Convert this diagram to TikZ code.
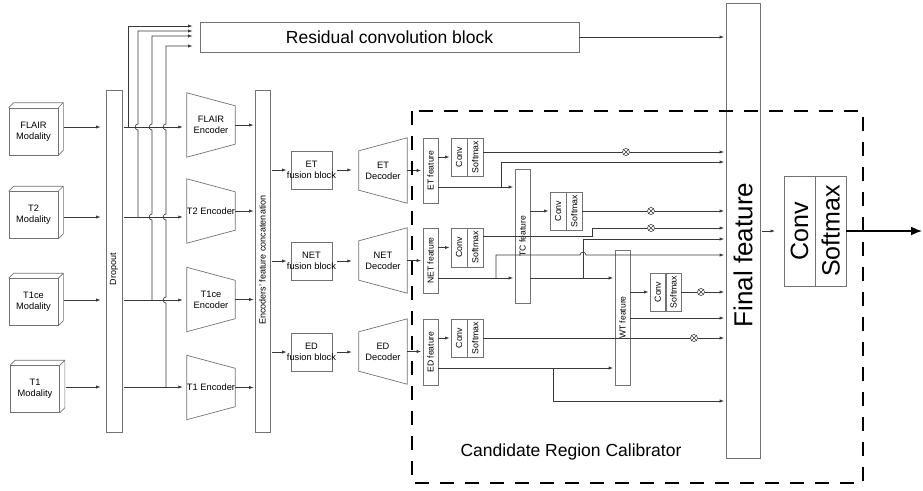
\documentclass[tikz,border=0pt]{standalone}
\usepackage{fontspec}
\setmainfont{Liberation Sans}
\usetikzlibrary{arrows.meta}

% side and top faces of a 3D block drawn behind its front face
\newcommand\cubefaces[1]{%
  \draw[boxln] (#1.north west) -- ([shift={(5pt,5pt)}]#1.north west)
    -- ([shift={(5pt,5pt)}]#1.north east) -- ([shift={(5pt,5pt)}]#1.south east)
    -- (#1.south east)
    (#1.north east) -- ([shift={(5pt,5pt)}]#1.north east);}
% encoder: tall on the left, narrow on the right
\newcommand\encoutline[1]{\draw[boxln] (#1.north west) -- ([yshift=-13pt]#1.north east)
  -- ([yshift=13pt]#1.south east) -- (#1.south west) -- cycle;}
% decoder: narrow on the left, tall on the right
\newcommand\decoutline[1]{\draw[boxln] ([yshift=-13pt]#1.north west) -- (#1.north east)
  -- (#1.south east) -- ([yshift=13pt]#1.south west) -- cycle;}
% upright box with a rotated label
\newcommand\mkvert[7]{%
  \node[box, minimum width=#4pt, minimum height=#5pt] (#1) at (#2,#3) {};
  \node[rotate=90, inner sep=0pt, font=\fontsize{#7}{#7}\selectfont] (#1-t) at (#1) {#6};}
% Conv | Softmax pair
\newcommand\mkcs[6]{%
  \node[box, anchor=west, minimum width=#4pt, minimum height=#5pt] (#1-c) at (#2,#3) {};
  \node[box, anchor=west, minimum width=#4pt, minimum height=#5pt] (#1-s) at (#1-c.east) {};
  \node[rotate=90, inner sep=0pt, font=\fontsize{#6}{#6}\selectfont] (#1-ct) at (#1-c) {Conv};
  \node[rotate=90, inner sep=0pt, font=\fontsize{#6}{#6}\selectfont] (#1-st) at (#1-s) {Softmax};}

\begin{document}
\begin{tikzpicture}[x=1pt, y=-1pt,
  boxln/.style={draw=black!55, line width=0.7pt},
  box/.style={boxln, inner sep=0pt},
  lin/.style={draw=black!78, line width=0.7pt},
  arr/.style={lin, -{Latex[length=4.5pt,width=3.2pt]}, shorten >=1.5pt},
  t9/.style={font=\fontsize{9.3}{11}\selectfont, align=center, inner sep=0pt},
  modal/.style={box, t9, minimum width=49pt, minimum height=47pt},
  enc/.style={t9, minimum width=48pt, minimum height=64pt},
  dec/.style={t9, minimum width=48pt, minimum height=65pt},
  fuse/.style={box, minimum width=41pt, minimum height=38pt},
  otimes/.style={circle, draw=black!78, line width=0.6pt, minimum size=7pt, inner sep=0pt,
    path picture={\draw[black!78, line width=0.5pt]
      (path picture bounding box.north west) -- (path picture bounding box.south east)
      (path picture bounding box.north east) -- (path picture bounding box.south west);}},
  hop/.style={looseness=1.6}
]
\useasboundingbox (0,0) rectangle (923,490);

% ---------- inputs ----------
\node[modal] (mFL)   at (33.5,131.5) {FLAIR\\Modality};
\node[modal] (mT2)   at (33.5,215)   {T2\\Modality};
\node[modal] (mT1ce) at (33.5,302)   {T1ce\\Modality};
\node[modal] (mT1)   at (35,389)     {T1\\Modality};
\cubefaces{mFL}\cubefaces{mT2}\cubefaces{mT1ce}\cubefaces{mT1}

\coordinate (rFL) at (0,127);
\coordinate (rT2) at (0,217);
\coordinate (rT1ce) at (0,300);
\coordinate (rT1) at (0,387);

\node[box, minimum width=16pt, minimum height=342pt] (drop) at (114,261) {};
\node[rotate=90, font=\fontsize{9}{9}\selectfont, inner sep=0pt] (drop-t) at (114,269) {Dropout};

\foreach \m/\r in {mFL/rFL, mT2/rT2, mT1ce/rT1ce, mT1/rT1}
  \draw[arr, shorten <=6pt, shorten >=5pt] (\m.east |- \r) -- (drop.west |- \r);

% ---------- encoders ----------
\node[enc] (eFL)   at (211,125)   {FLAIR\\Encoder};
\node[enc] (eT2)   at (211,211)   {T2 Encoder};
\node[enc] (eT1ce) at (211,299.5) {T1ce\\Encoder};
\node[enc] (eT1)   at (211,387.5) {T1 Encoder};
\encoutline{eFL}\encoutline{eT2}\encoutline{eT1ce}\encoutline{eT1}

\foreach \e/\r in {eFL/rFL, eT2/rT2, eT1ce/rT1ce, eT1/rT1}
  \draw[arr, shorten <=2pt, shorten >=4pt] (drop.east |- \r) -- (\e.west |- \r);

% ---------- residual branch ----------
\node[box, minimum width=379pt, minimum height=30pt, font=\fontsize{17.5}{20}\selectfont]
  (res) at (389.5,37) {Residual convolution block};

\coordinate (jFL) at (128,127);
\coordinate (jT2) at (138,217);
\coordinate (jT1ce) at (152,300);
\coordinate (jT1) at (166,387);
\draw[arr, shorten >=7pt] (jFL) |- ([yshift=11pt]res.west);
\draw[arr, shorten >=7pt] (jT2) -- ++(0,-87) to[out=180,in=180,hop] ++(0,-6)
  |- ([yshift=6pt]res.west);
\draw[arr, shorten >=7pt] (jT1ce) -- ++(0,-80) to[out=180,in=180,hop] ++(0,-6)
  -- ++(0,-84) to[out=180,in=180,hop] ++(0,-6) |- ([yshift=1pt]res.west);
\draw[arr, shorten >=7pt] (jT1) -- ++(0,-84) to[out=180,in=180,hop] ++(0,-6)
  -- ++(0,-77) to[out=180,in=180,hop] ++(0,-6)
  -- ++(0,-84) to[out=180,in=180,hop] ++(0,-6) |- ([yshift=-9pt]res.west);

% ---------- concatenation and fusion ----------
\node[box, minimum width=15pt, minimum height=342pt] (cat) at (262.5,261) {};
\node[rotate=90, font=\fontsize{9}{9}\selectfont, inner sep=0pt] (cat-t) at (262.5,260)
  {Encoders' feature concatenation};
\foreach \e in {eFL, eT2, eT1ce, eT1}
  \draw[arr, shorten >=1pt] (\e.east) -- (cat.west |- \e.east);

\node[fuse] (fET)  at (311.5,170) {};
\node[fuse] (fNET) at (311.5,261) {};
\node[fuse] (fED)  at (311.5,352) {};
\node[t9] (fET-t)  at (fET)  {ET\\fusion block};
\node[t9] (fNET-t) at (fNET) {NET\\fusion block};
\node[t9] (fED-t)  at (fED)  {ED\\fusion block};

\node[dec] (dET)  at (383,170.5) {ET\\Decoder};
\node[dec] (dNET) at (383,260.5) {NET\\Decoder};
\node[dec] (dED)  at (383,351.5) {ED\\Decoder};
\decoutline{dET}\decoutline{dNET}\decoutline{dED}

\foreach \f/\d in {fET/dET, fNET/dNET, fED/dED}{
  \draw[arr, shorten <=2pt, shorten >=4pt] (cat.east |- \f) -- (\f.west);
  \draw[arr, shorten <=5pt, shorten >=7pt] (\f.east) -- (\d.west |- \f.east);
}

% ---------- candidate region calibrator ----------
\mkvert{etF}{430.5}{170.5}{15}{65}{ET feature}{8.6}
\mkvert{netF}{430.5}{260.5}{15}{65}{NET feature}{8.6}
\mkvert{edF}{430.5}{352}{15}{66}{ED feature}{8.6}
\mkvert{tcF}{522.5}{236}{15}{134}{TC feature}{8.6}
\mkvert{wtF}{622.5}{317.5}{15}{135}{WT feature}{8.6}

\draw[arr] (dET.east) -- (etF.west |- dET.east);
\draw[arr] (dNET.east) -- (netF.west |- dNET.east);
\draw[arr] (dED.east) -- (edF.west |- dED.east);

\mkcs{etc}{451}{157}{15.5}{38}{8.8}
\mkcs{netc}{451}{247.5}{15.5}{39}{8.8}
\mkcs{edc}{451}{338}{15.5}{38}{8.8}
\mkcs{tcc}{550}{211}{15.5}{38}{8.8}
\mkcs{wtc}{650}{292}{15}{38}{8.8}

\node[box, minimum width=34pt, minimum height=455pt] (fin) at (743,230.5) {};
\node[rotate=90, inner sep=0pt, font=\fontsize{26}{26}\selectfont] (fin-t) at (743,255) {Final feature};
\mkcs{fcs}{784}{231}{30.5}{110}{25}

% feature -> Conv/Softmax
\draw[arr] (etF.east |- etc-c) -- (etc-c.west);
\draw[arr] (netF.east |- netc-c) -- (netc-c.west);
\draw[arr] (edF.east |- edc-c) -- (edc-c.west);
\draw[arr] (tcF.east |- tcc-c) -- (tcc-c.west);
\draw[arr] (wtF.east |- wtc-c) -- (wtc-c.west);

% gated outputs
\node[otimes] (ox1) at (626,152) {};
\node[otimes] (ox2) at (651,211) {};
\node[otimes] (ox3) at (651,228) {};
\node[otimes] (ox4) at (701,292) {};
\node[otimes] (ox5) at (694,338) {};

\draw[lin] ([yshift=5pt]etc-s.east) -- (ox1);
\draw[lin] (tcc-s.east) -- (ox2);
\coordinate (hK) at (592,236);
\draw[lin] ([yshift=11.5pt]netc-s.east) -- (hK) |- (ox3);
\draw[lin] (wtc-s.east) -- (ox4);
\draw[lin] (edc-s.east) -- (ox5);
\foreach \o in {ox1, ox2, ox3, ox4, ox5}
  \draw[arr] (\o) -- (fin.west |- \o);

% ET feature -> TC feature and final
\coordinate (eB) at (501,187);
\coordinate (eK) at (501,162);
\draw[arr] (etF.east |- eB) -- (tcF.west |- eB);
\draw[arr] (eB) -- (eK) -- (fin.west |- eK);

% NET feature -> TC feature and final
\coordinate (iB) at (496,278);
\coordinate (iK) at (496,255);
\draw[arr] (netF.east |- iB) -- (tcF.west |- iB);
\draw[arr] (iB) -- (iK) -- (580,255) to[out=90,in=90,hop] (586,255) -- (fin.west |- iK);

% TC feature -> WT feature and final
\coordinate (jB) at (583,278);
\coordinate (jK) at (583,239);
\draw[arr] (tcF.east |- jB) -- (wtF.west |- jB);
\draw[arr] (jB) -- (jK) -- (fin.west |- jK);

% WT feature -> final
\coordinate (mY) at (0,318);
\draw[arr] (wtF.east |- mY) -- (fin.west |- mY);

% ED feature -> WT feature and final
\coordinate (oB) at (553,368);
\coordinate (oK) at (553,401);
\draw[arr] (edF.east |- oB) -- (wtF.west |- oB);
\draw[arr] (oB) -- (oK) -- (fin.west |- oK);

% residual -> final, final -> classifier -> output
\draw[arr] (res.east) -- (fin.west |- res.east);
\draw[arr, shorten <=2pt, shorten >=9pt] (fin.east |- fcs-c) -- (fcs-c.west);
\coordinate (outEnd) at (922,231);
\draw[black, line width=1.6pt, -{Latex[length=11pt,width=9pt]}] (fcs-s.east) -- (outEnd);

% calibrator frame
\draw[black, line width=2.8pt, dash pattern=on 14pt off 11pt, line join=miter]
  (412,111) rectangle (863,483);
\node[font=\fontsize{17.5}{20}\selectfont, inner sep=0pt] (crc) at (571,452)
  {Candidate Region Calibrator};
\end{tikzpicture}
\end{document}
